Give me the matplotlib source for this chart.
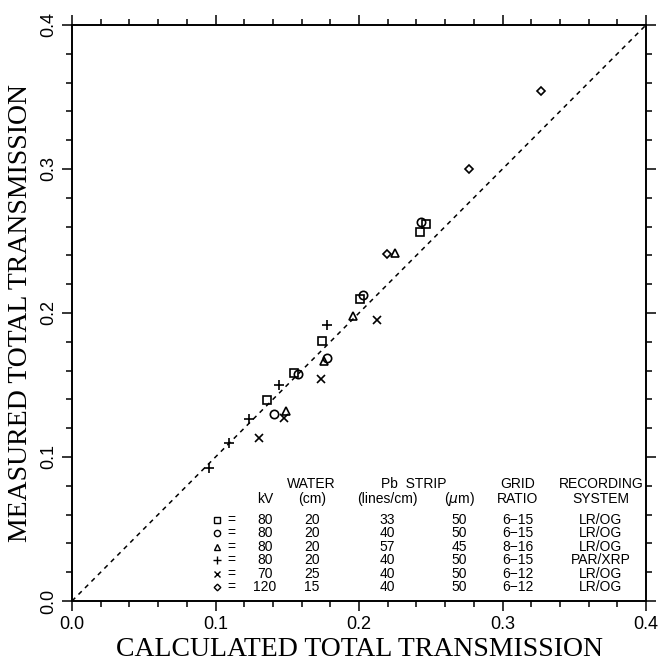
import numpy as np
import matplotlib
matplotlib.use("Agg")
import matplotlib.pyplot as plt
from matplotlib.ticker import MultipleLocator, FormatStrFormatter

# measured vs calculated total transmission, one series per setup
sq_x = [0.136, 0.155, 0.174, 0.201, 0.2425, 0.247]
sq_y = [0.1396, 0.158, 0.1806, 0.210, 0.2565, 0.2616]
ci_x = [0.141, 0.1577, 0.1775, 0.203, 0.243]
ci_y = [0.130, 0.1574, 0.169, 0.2125, 0.263]
tr_x = [0.149, 0.1758, 0.1956, 0.225]
tr_y = [0.1322, 0.1669, 0.198, 0.2414]
pl_x = [0.0952, 0.1094, 0.1236, 0.1442, 0.178]
pl_y = [0.0921, 0.1095, 0.1264, 0.150, 0.1917]
xx_x = [0.1305, 0.1477, 0.1733, 0.2125]
xx_y = [0.113, 0.1269, 0.154, 0.195]
di_x = [0.2197, 0.2764, 0.327]
di_y = [0.241, 0.300, 0.354]

series = [(sq_x, sq_y, 's'), (ci_x, ci_y, 'o'), (tr_x, tr_y, '^'),
          (pl_x, pl_y, '+'), (xx_x, xx_y, 'x'), (di_x, di_y, 'D')]

# legend table
col_heads2 = ["kV", "(cm)", "(lines/cm)", r"($\mu$m)", "RATIO", "SYSTEM"]
kv = ["80", "80", "80", "80", "70", "120"]
water = ["20", "20", "20", "20", "25", "15"]
lines = ["33", "40", "57", "40", "40", "40"]
um = ["50", "50", "45", "50", "50", "50"]
grid = ["6\u221215", "6\u221215", "8\u221216", "6\u221215", "6\u221212", "6\u221212"]
system = ["LR/OG", "LR/OG", "LR/OG", "PAR/XRP", "LR/OG", "LR/OG"]

fig = plt.figure(figsize=(6.65, 6.67), dpi=100)
ax = fig.add_axes([0.1083, 0.0990, 0.8632, 0.8636])

ax.plot([0, 0.4], [0, 0.4], color='k', linestyle=(0, (3, 3)), linewidth=1.1)

msize = {'s': 6, 'o': 6, '^': 6, '+': 7, 'x': 6, 'D': 4.5}
for xs, ys, m in series:
    ax.plot(xs, ys, linestyle='none', marker=m, markersize=msize[m],
            markerfacecolor='none', markeredgecolor='k', markeredgewidth=1.2)

ax.set_xlim(0, 0.4)
ax.set_ylim(0, 0.4)
ax.xaxis.set_major_locator(MultipleLocator(0.1))
ax.yaxis.set_major_locator(MultipleLocator(0.1))
ax.xaxis.set_minor_locator(MultipleLocator(0.02))
ax.yaxis.set_minor_locator(MultipleLocator(0.02))
ax.tick_params(which='both', direction='out', top=True, right=True,
               width=1.1, labelsize=13)
ax.tick_params(which='major', length=7)
ax.tick_params(which='minor', length=4)
ax.xaxis.set_major_formatter(FormatStrFormatter('%.1f'))
ax.yaxis.set_major_formatter(FormatStrFormatter('%.1f'))
for lab in ax.get_xticklabels() + ax.get_yticklabels():
    lab.set_family('Liberation Sans')
for lab in ax.get_yticklabels():
    lab.set_rotation(90)
    lab.set_va('center')
for sp in ax.spines.values():
    sp.set_linewidth(1.4)

ax.set_xlabel("CALCULATED TOTAL TRANSMISSION", family='Liberation Serif',
              fontsize=20, labelpad=3)
ax.set_ylabel("MEASURED TOTAL TRANSMISSION", family='Liberation Serif',
              fontsize=20, labelpad=5)

# table
col_x = [0.1345, 0.167, 0.2195, 0.2697, 0.3108, 0.3686]
row_y = [0.05625, 0.0470, 0.0377, 0.0284, 0.0190, 0.0097]
tkw = dict(ha='center', va='center', fontsize=10, family='Liberation Sans')
ax.text(0.167, 0.0813, "WATER", **tkw)
ax.text(0.238, 0.0813, "Pb  STRIP", **tkw)
ax.text(0.3108, 0.0813, "GRID", **tkw)
ax.text(0.3686, 0.0813, "RECORDING", **tkw)
for cx, h2 in zip(col_x, col_heads2):
    ax.text(cx, 0.0708, h2, **tkw)
for i, (ry, m) in enumerate(zip(row_y, [s[2] for s in series])):
    ax.plot([0.101], [ry], linestyle='none', marker=m,
            markersize=msize[m] * 0.75, markerfacecolor='none',
            markeredgecolor='k', markeredgewidth=1.0)
    ax.text(0.111, ry, "=", **tkw)
    for cx, col in zip(col_x, [kv, water, lines, um, grid, system]):
        ax.text(cx, ry, col[i], **tkw)

fig.savefig("out.png", dpi=100)
